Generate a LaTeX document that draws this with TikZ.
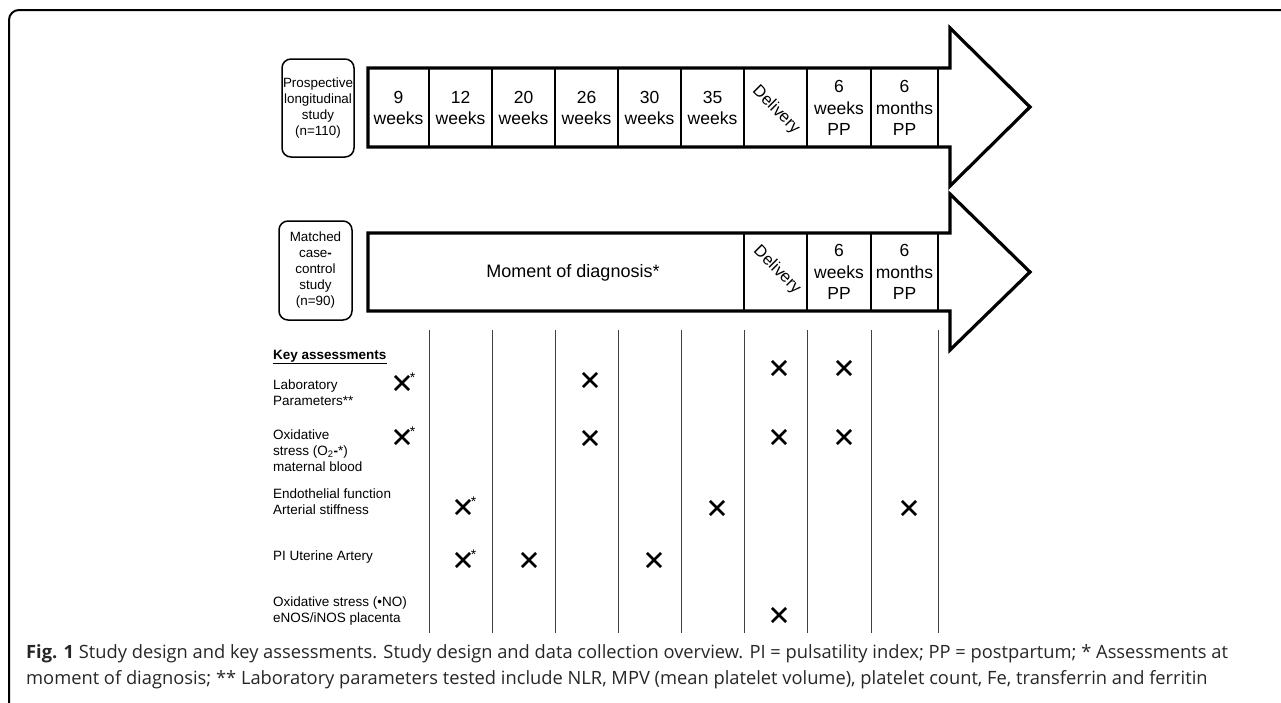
\documentclass[tikz,border=0pt]{standalone}
\usepackage{fontspec}
\setmainfont{Liberation Sans}
\newfontfamily\capfont{Open Sans}
\usetikzlibrary{shapes.misc}
\newcommand{\fsz}[2]{\fontsize{#1}{#2}\selectfont}
\begin{document}
\begin{tikzpicture}[x=1pt, y=-1pt,
    study/.style={draw, line width=1.5pt, rounded corners=9pt, align=center,
      font=\fsz{13.4}{16}, inner sep=0pt},
    cell/.style={align=center, font=\fsz{17.5}{21.5}, inner sep=0pt},
    rowlabel/.style={anchor=west, align=left, font=\fsz{13.5}{16}, inner sep=0pt},
    xmark/.style={cross out, draw, line width=2.6pt, minimum size=11.5pt, inner sep=0pt},
    starred/.style={label={[font=\fsz{14}{14}, inner sep=0pt, xshift=0.5pt, yshift=-7pt]north east:*}},
    caption/.style={anchor=base west, inner sep=0pt, font=\capfont\fsz{18.3}{26}, text=black!85}]
  \useasboundingbox (0,0) rectangle (1281,702);
  % outer frame
  \draw [line width=2pt, rounded corners=10pt] (1300,10) -- (9,10) -- (9,720);

  % prospective study
  \node [study, minimum width=72pt, minimum height=98pt] (pros) at (318,108)
    {Prospective\\longitudinal\\study\\(n=110)};
  \draw [line width=3.2pt] (950,68) -- (368,68) -- (368,147) -- (950,147)
    -- (950,186) -- (1030,107) -- (950,28) -- cycle;
  \foreach \x in {429,492,555,618,681,744,807,871,938}
    \draw [line width=1.2pt] (\x,68) -- (\x,147);
  \foreach \x/\t [count=\i] in {398.5/{9\\weeks}, 460.5/{12\\weeks}, 523.5/{20\\weeks},
      586.5/{26\\weeks}, 649.5/{30\\weeks}, 712.5/{35\\weeks},
      839/{6\\weeks\\PP}, 904.5/{6\\months\\PP}}
    \node [cell] (p\i) at (\x,108) {\t};
  \node [cell, rotate=-45, font=\fsz{16.5}{16.5}] (pdel) at (776,110) {Delivery};

  % case-control study
  \node [study, minimum width=73pt, minimum height=99pt] (case) at (315.5,270.5)
    {Matched\\case\textbf{-}\\control\\study\\(n=90)};
  \draw [line width=3.2pt] (950,233) -- (368,233) -- (368,311) -- (950,311)
    -- (950,350) -- (1030,272) -- (950,194) -- cycle;
  \foreach \x in {744,807,871,938}
    \draw [line width=1.2pt] (\x,233) -- (\x,311);
  \node [cell, font=\fsz{18}{18}] (diag) at (573,273) {Moment of diagnosis*};
  \node [cell, rotate=-45, font=\fsz{16.5}{16.5}] (cdel) at (777,270) {Delivery};
  \node [cell] (c6w) at (839,272) {6\\weeks\\PP};
  \node [cell] (c6m) at (904.5,272) {6\\months\\PP};

  % key assessments
  \foreach \x in {429,492,555,618,681,744,807,871,938}
    \draw [line width=1pt, black!75] (\x,330) -- (\x,633);
  \node [rowlabel, font=\bfseries\fsz{13.5}{16}] (key) at (273,357) {\underline{Key assessments}};
  \node [rowlabel] (lab) at (273,393) {Laboratory\\Parameters**};
  \node [rowlabel] (oxi) at (273,451) {Oxidative\\stress (O\textsubscript{2}\textbf{-}*)\\maternal blood};
  \node [rowlabel] (endo) at (273,502) {Endothelial function\\Arterial stiffness};
  \node [rowlabel] (pi) at (273,557) {PI Uterine Artery};
  \node [rowlabel] (nos) at (273,611) {Oxidative stress (•NO)\\eNOS/iNOS placenta};

  \node [xmark, starred] (lab1) at (402,383) {};
  \node [xmark] (lab2) at (590,380) {};
  \node [xmark] (lab3) at (779,368) {};
  \node [xmark] (lab4) at (844,368) {};
  \node [xmark, starred] (oxi1) at (402,437) {};
  \node [xmark] (oxi2) at (590,438) {};
  \node [xmark] (oxi3) at (779,437) {};
  \node [xmark] (oxi4) at (844,437) {};
  \node [xmark, starred] (endo1) at (463,507) {};
  \node [xmark] (endo2) at (717,508) {};
  \node [xmark] (endo3) at (909,508) {};
  \node [xmark, starred] (pi1) at (463,560) {};
  \node [xmark] (pi2) at (529,560) {};
  \node [xmark] (pi3) at (654,560) {};
  \node [xmark] (nos1) at (779,615) {};

  % caption
  \node [caption] (cap1) at (26,658) {\textbf{Fig. 1} Study design and key assessments. Study design and data collection overview. PI = pulsatility index; PP = postpartum; * Assessments at};
  \node [caption] (cap2) at (26,684) {moment of diagnosis; ** Laboratory parameters tested include NLR, MPV (mean platelet volume), platelet count, Fe, transferrin and ferritin};
\end{tikzpicture}
\end{document}
